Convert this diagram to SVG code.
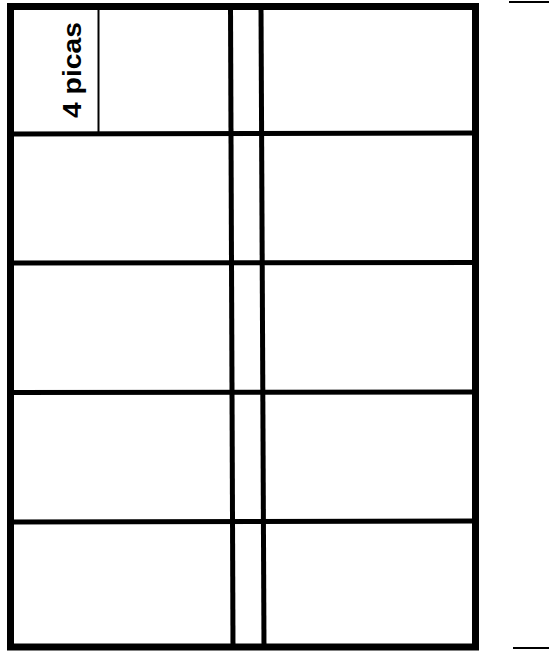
<svg xmlns="http://www.w3.org/2000/svg" width="549" height="652" viewBox="0 0 549 652">
<style>
.b{fill:none;stroke:#000;stroke-width:7}
.g{stroke:#000;stroke-width:5;fill:none}
.t{stroke:#000;stroke-width:2;fill:none}
.lbl{font-family:"Liberation Sans",Arial,sans-serif;font-weight:bold;font-size:25px;fill:#000}
</style>
<rect width="549" height="652" fill="#fff"/>
<g id="grid">
<rect class="b" x="10.5" y="6.5" width="465" height="640.5"/>
<g id="rows">
<line class="g" x1="10" y1="134" x2="476" y2="133"/>
<line class="g" x1="10" y1="263" x2="476" y2="262.5"/>
<line class="g" x1="10" y1="392.5" x2="476" y2="392"/>
<line class="g" x1="10" y1="522" x2="476" y2="521"/>
</g>
<g id="columns">
<line class="g" x1="230.5" y1="6" x2="233" y2="647"/>
<line class="g" x1="261" y1="6" x2="264" y2="647"/>
</g>
</g>
<g id="label">
<line class="t" x1="98.5" y1="8" x2="98.5" y2="133"/>
<text class="lbl" transform="translate(81,118) rotate(-90)" textLength="96" lengthAdjust="spacingAndGlyphs">4 picas</text>
</g>
<g id="marks">
<line class="t" x1="509" y1="2" x2="549" y2="2" stroke-width="3"/>
<line class="t" x1="513" y1="648" x2="549" y2="648" stroke-width="3"/>
</g>
</svg>
